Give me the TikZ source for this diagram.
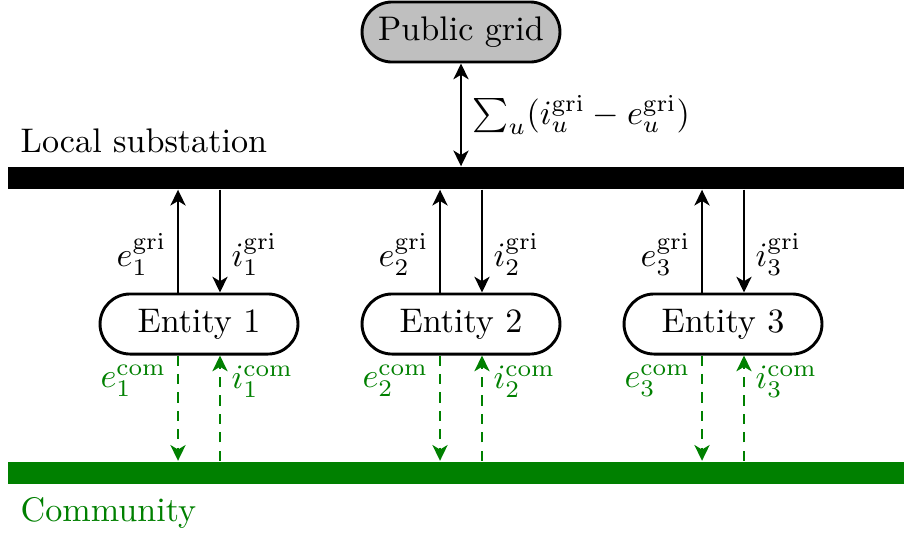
\documentclass[tikz,border=0pt]{standalone}
\usetikzlibrary{shapes.misc,arrows.meta}
\definecolor{comgreen}{RGB}{0,128,0}
\begin{document}
\begin{tikzpicture}[x=0.293pt,y=-0.293pt,
  ent/.style={draw,line width=0.85pt,rounded rectangle,minimum width=58pt,minimum height=17.6pt,inner sep=0pt},
  bar/.style={minimum width=262.5pt,minimum height=6.45pt,inner sep=0pt},
  tip/.tip={Stealth[length=4.6pt,width=4.4pt,inset=1.3pt]},
  arr/.style={line width=0.85pt,-tip},
  carr/.style={arr,comgreen,dash pattern=on 3pt off 2.4pt},
  lbl/.style={inner sep=3pt}]
\useasboundingbox (0,0) rectangle (904,534);
\node[ent,fill=gray!50] (pg) at (461,32) {Public grid};
\node[bar,fill=black] (sub) at (456,178) {};
\node[bar,fill=comgreen] (com) at (456,472.5) {};
\node[anchor=base west,inner sep=0pt] (subl) at (20,152) {Local substation};
\node[anchor=base west,inner sep=0pt,text=comgreen] (coml) at (20,521) {Community};
\draw[arr,tip-tip] (pg.south) -- (pg.south |- sub.north)
  node[midway,right,lbl] (sum) {$\sum_u(i_u^{\mathrm{gri}}-e_u^{\mathrm{gri}})$};
\foreach \k/\cx in {1/199,2/461,3/723}{
  \node[ent] (E\k) at (\cx,324) {Entity \k};
  \draw[arr] ([xshift=-6.15pt]E\k.north) -- ([xshift=-6.15pt]E\k.north |- sub.south)
    node[pos=0.37,left,lbl] (eg\k) {$e_\k^{\mathrm{gri}}$};
  \draw[arr] ([xshift=6.15pt]E\k.north |- sub.south) -- ([xshift=6.15pt]E\k.north)
    node[pos=0.63,right,lbl] (ig\k) {$i_\k^{\mathrm{gri}}$};
  \draw[carr] ([xshift=-6.15pt]E\k.south) -- ([xshift=-6.15pt]E\k.south |- com.north)
    node[pos=0.24,left,lbl,text=comgreen] (ec\k) {$e_\k^{\mathrm{com}}$};
  \draw[carr] ([xshift=6.15pt]E\k.south |- com.north) -- ([xshift=6.15pt]E\k.south)
    node[pos=0.75,right,lbl,text=comgreen] (ic\k) {$i_\k^{\mathrm{com}}$};
}
\end{tikzpicture}
\end{document}
